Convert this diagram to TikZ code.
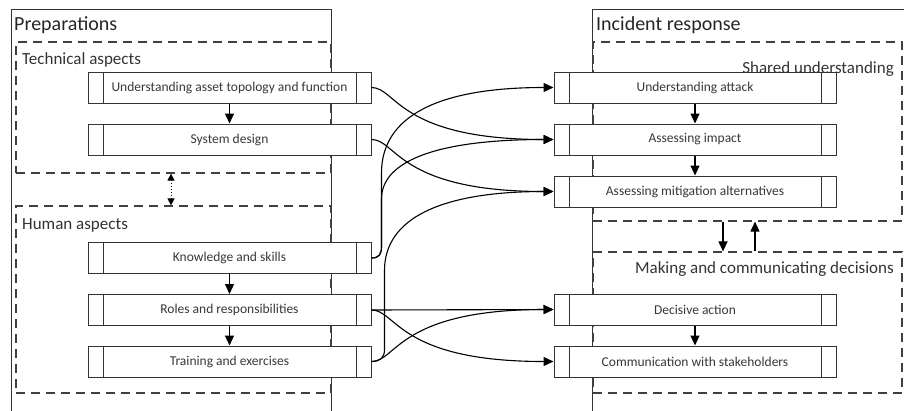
\documentclass[tikz,border=0pt]{standalone}
\usepackage{fontspec}
\setmainfont{Carlito}
\usetikzlibrary{arrows.meta,calc}
\begin{document}
\begin{tikzpicture}[x=1pt,y=-1pt,
  lc/.style={draw=black!80, line width=1pt},
  proc/.style={lc, fill=white, minimum height=31pt, inner sep=0pt,
    font=\fontsize{13.5}{15}\selectfont, text=black!78,
    path picture={\draw[black!80,line width=1pt]
      ([xshift=15pt]path picture bounding box.north west) -- ([xshift=15pt]path picture bounding box.south west)
      ([xshift=-15pt]path picture bounding box.north east) -- ([xshift=-15pt]path picture bounding box.south east);}},
  lproc/.style={proc, minimum width=283pt},
  rproc/.style={proc, minimum width=282pt},
  dbox/.style={draw=black!75, line width=1.2pt, dash pattern=on 9pt off 6pt, inner sep=0pt},
  head/.style={inner sep=0pt, font=\fontsize{20}{24}\selectfont, text=black!85},
  sub/.style={inner sep=0pt, font=\fontsize{17}{20}\selectfont, text=black!80},
  arr/.style={draw=black, line width=1.1pt, -{Triangle[length=10pt,width=9pt]}},
  darr/.style={draw=black, line width=1pt, dotted, {Triangle[length=7pt,width=7pt]}-{Triangle[length=7pt,width=7pt]}}
]
\path[use as bounding box] (0,0) rectangle (904,410);
\begin{scope}
\clip (0,0) rectangle (904,410);
% outer boxes
\draw[lc] (11,430) -- (11,9) -- (331,9) -- (331,430);
\draw[lc] (592,430) -- (592,9) -- (930,9);
% dashed groups
\node[dbox, minimum width=315pt, minimum height=131pt] (tech) at (173.5,107.5) {};
\node[dbox, minimum width=315pt, minimum height=187pt] (human) at (173.5,299.5) {};
\node[dbox, minimum width=309pt, minimum height=179pt] (shared) at (747.5,131.5) {};
\node[dbox, minimum width=309pt, minimum height=141pt] (making) at (747.5,322.5) {};
\end{scope}
% headings
\node[head, anchor=base west] (hprep) at (14,30) {Preparations};
\node[head, anchor=base west] (hinc) at (596,30.5) {Incident response};
\node[sub, anchor=base west] (htech) at (22,64) {Technical aspects};
\node[sub, anchor=base west] (hhum) at (22,229) {Human aspects};
\node[sub, anchor=base east] (hshared) at (894,73) {Shared understanding};
\node[sub, anchor=base east] (hmake) at (894,273) {Making and communicating decisions};
% left nodes
\node[lproc] (topo) at (229.5,87.5) {Understanding asset topology and function};
\node[lproc] (sys) at (229.5,139.5) {System design};
\node[lproc] (kno) at (229.5,258) {Knowledge and skills};
\node[lproc] (rol) at (229.5,310) {Roles and responsibilities};
\node[lproc] (tra) at (229.5,361.5) {Training and exercises};
% right nodes
\node[rproc] (att) at (695,87.5) {Understanding attack};
\node[rproc] (imp) at (695,139.5) {Assessing impact};
\node[rproc] (mit) at (695,191.5) {Assessing mitigation alternatives};
\node[rproc] (dec) at (695,309.5) {Decisive action};
\node[rproc] (com) at (695,361.5) {Communication with stakeholders};
% vertical arrows
\draw[arr] (topo) -- (sys);
\draw[arr] (kno) -- (rol);
\draw[arr] (rol) -- (tra);
\draw[arr] (att) -- (imp);
\draw[arr] (imp) -- (mit);
\draw[arr] (dec) -- (com);
\draw[darr] ([xshift=-2.5pt]tech.south) -- ([xshift=-2.5pt]human.north);
\draw[arr] ([xshift=-24.5pt]shared.south) -- ([xshift=-24.5pt]making.north);
\draw[arr] ([xshift=7.5pt]making.north) -- ([xshift=7.5pt]shared.south);
% cross connectors
\draw[arr] (topo.east) .. controls +(25,0) and +(-155,0) .. (imp.west);
\draw[arr] (sys.east) .. controls +(25,0) and +(-155,0) .. (mit.west);
\draw[arr] (rol.east) -- (dec.west);
\draw[arr] (rol.east) .. controls +(25,0) and +(-155,0) .. (com.west);
\draw[arr] (tra.east) .. controls +(25,0) and +(-155,0) .. (dec.west);
\draw[arr] (kno.east) .. controls +(8,0) and +(0,8) .. ($(kno.east)+(10,-12)$)
   -- ($(kno.east)+(10,-85)$) .. controls +(0,-57) and +(-115,0) .. (att.west);
\draw[arr] (kno.east) .. controls +(8,0) and +(0,8) .. ($(kno.east)+(10,-12)$)
   -- ($(kno.east)+(10,-59)$) .. controls +(0,-39) and +(-114,0) .. (imp.west);
\draw[arr] (tra.east) .. controls +(9,0) and +(0,8) .. ($(tra.east)+(13,-12)$)
   -- ($(tra.east)+(13,-91)$) .. controls +(0,-52) and +(-113,0) .. (mit.west);
\end{tikzpicture}
\end{document}
